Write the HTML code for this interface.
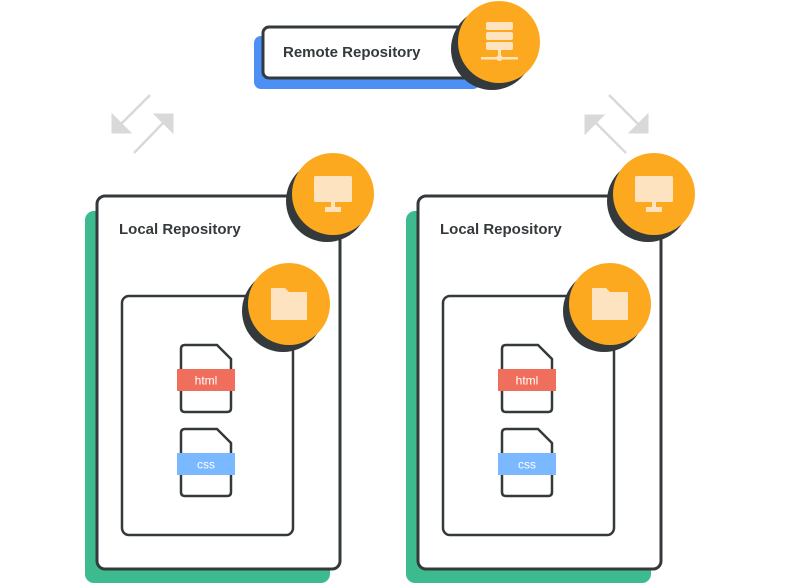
<!DOCTYPE html>
<html><head><meta charset="utf-8"><style>html,body{margin:0;padding:0;background:#fff}svg{display:block}text{font-family:"Liberation Sans",sans-serif}</style></head><body>
<svg width="800" height="583" viewBox="0 0 800 583" xmlns="http://www.w3.org/2000/svg">
<defs>
<g id="file">
  <path d="M4 0 H36 L50 14 V63 Q50 67 46 67 H4 Q0 67 0 63 V4 Q0 0 4 0 Z" fill="#fff" stroke="#343a3c" stroke-width="2.5"/>
</g>
<g id="monitor">
  <rect x="-19" y="-17" width="38" height="26" rx="1.5" fill="#fde3bf"/>
  <rect x="-2" y="9" width="4" height="6" fill="#fde3bf"/>
  <rect x="-8" y="14" width="16" height="5" fill="#fde3bf"/>
</g>
<g id="folder">
  <path d="M-18 -16 H-4 L0 -12 H18 V16 H-18 Z" fill="#fde3bf"/>
</g>
<g id="local">
  <rect x="-12" y="15" width="245" height="372" rx="9" fill="#3dbb8e"/>
  <rect x="0" y="0" width="243" height="373" rx="8" fill="#fff" stroke="#343a3c" stroke-width="3"/>
  <text x="22" y="38" font-size="15" font-weight="bold" fill="#343a3c">Local Repository</text>
  <rect x="25" y="100" width="171" height="239" rx="7" fill="#fff" stroke="#343a3c" stroke-width="2.5"/>
  <use href="#file" x="84" y="149"/>
  <rect x="80" y="173" width="58" height="22" fill="#f06e5c"/>
  <text x="109" y="188.5" font-size="12" fill="#fff" text-anchor="middle">html</text>
  <use href="#file" x="84" y="233"/>
  <rect x="80" y="257" width="58" height="22" fill="#7ab8ff"/>
  <text x="109" y="272.5" font-size="12" fill="#fff" text-anchor="middle">css</text>
  <circle cx="230" cy="5" r="41" fill="#343a3c"/>
  <circle cx="236" cy="-2" r="41" fill="#fda91f"/>
  <use href="#monitor" x="236" y="-3"/>
  <circle cx="186" cy="115" r="41" fill="#343a3c"/>
  <circle cx="192" cy="108" r="41" fill="#fda91f"/>
  <use href="#folder" x="192" y="108"/>
</g>
</defs>
<!-- remote -->
<rect x="254" y="36" width="226" height="53" rx="7" fill="#4d90f5"/>
<rect x="263" y="27" width="215" height="51" rx="6" fill="#fff" stroke="#343a3c" stroke-width="3"/>
<text x="283" y="57" font-size="15" font-weight="bold" fill="#343a3c">Remote Repository</text>
<circle cx="492" cy="49" r="41" fill="#343a3c"/>
<circle cx="499" cy="42" r="41" fill="#fda91f"/>
<rect x="486" y="22" width="27" height="8" rx="2" fill="#fde3bf"/>
<rect x="486" y="32" width="27" height="8" rx="2" fill="#fde3bf"/>
<rect x="486" y="42" width="27" height="8" rx="2" fill="#fde3bf"/>
<rect x="498" y="50" width="3" height="6" fill="#fde3bf"/>
<rect x="481" y="57" width="37" height="2.5" fill="#fde3bf"/>
<circle cx="499.5" cy="58" r="3" fill="#fde3bf"/>
<!-- arrows -->
<g stroke="#d9d9d9" stroke-width="2.5" fill="#d9d9d9">
  <line x1="150" y1="95" x2="120" y2="125"/>
  <polygon points="112,114 112,133 131,133" stroke-width="1"/>
  <line x1="134" y1="153" x2="164" y2="122"/>
  <polygon points="154,114 173,114 173,133" stroke-width="1"/>
  <line x1="626" y1="153" x2="594" y2="121"/>
  <polygon points="585,115 604,115 585,134" stroke-width="1"/>
  <line x1="609" y1="95" x2="640" y2="126"/>
  <polygon points="648,114 648,133 629,133" stroke-width="1"/>
</g>
<use href="#local" x="97" y="196"/>
<use href="#local" x="418" y="196"/>
</svg>
</body></html>
